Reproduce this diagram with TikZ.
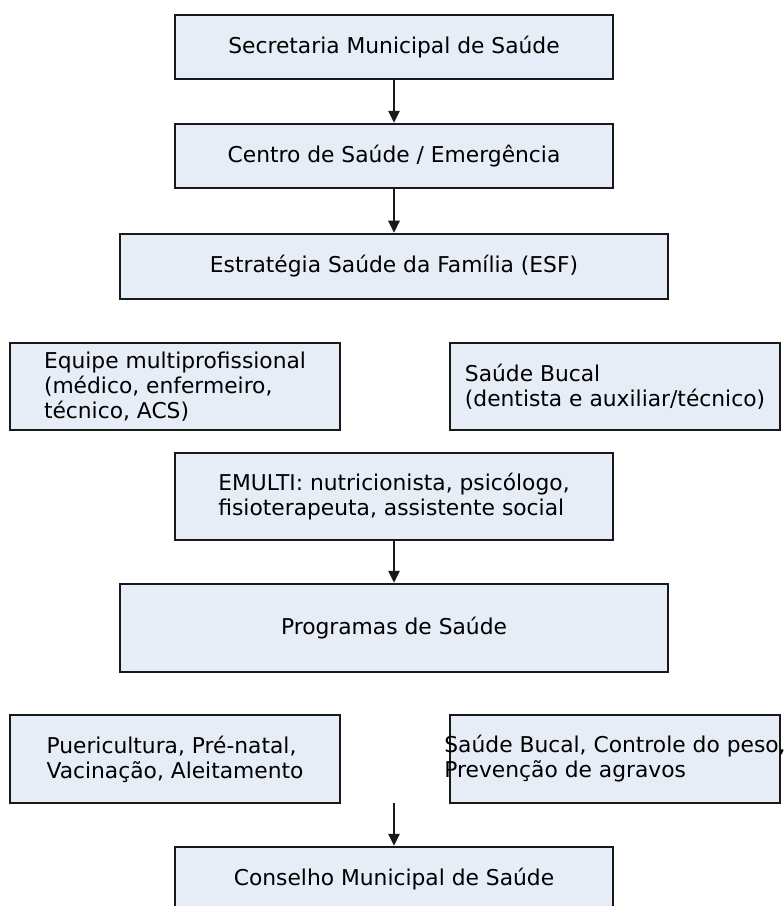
\documentclass[tikz,border=0pt]{standalone}
\usepackage{fontspec}
\setmainfont{DejaVu Sans}
\usetikzlibrary{arrows.meta}
\definecolor{boxfill}{RGB}{230,237,247}
\definecolor{boxline}{RGB}{25,25,25}

\begin{document}
\begin{tikzpicture}[
  box/.style={draw=boxline, fill=boxfill, line width=1.7pt, inner sep=0pt,
    align=left, font=\fontsize{15.5}{17.8}\selectfont},
  boxtext/.style={align=left, inner sep=0pt, font=\fontsize{15.5}{17.8}\selectfont},
  conn/.style={draw=boxline, line width=1.6pt, -{Triangle[length=0.3cm,width=0.28cm]}}
]
\useasboundingbox (0,0) rectangle (19.6,-22.65);
\clip (0,0) rectangle (19.6,-22.65);
\node[box, minimum width=10.95cm, minimum height=1.6cm] (sec) at (9.85,-1.175) {Secretaria Municipal de Saúde};
\node[box, minimum width=10.95cm, minimum height=1.6cm] (centro) at (9.85,-3.9) {Centro de Saúde / Emergência};
\node[box, minimum width=13.7cm, minimum height=1.625cm] (esf) at (9.85,-6.66) {Estratégia Saúde da Família (ESF)};
\node[box, minimum width=8.25cm, minimum height=2.175cm] (equipe) at (4.375,-9.66) {Equipe multiprofissional\\(médico, enfermeiro,\\técnico, ACS)};
\node[box, minimum width=8.25cm, minimum height=2.175cm] (bucal) at (15.375,-9.66) {Saúde Bucal\\(dentista e auxiliar/técnico)};
\node[box, minimum width=10.95cm, minimum height=2.175cm] (emulti) at (9.85,-12.41) {EMULTI: nutricionista, psicólogo,\\fisioterapeuta, assistente social};
\node[box, minimum width=13.7cm, minimum height=2.2cm] (prog) at (9.85,-15.7) {Programas de Saúde};
\node[box, minimum width=8.25cm, minimum height=2.2cm] (puer) at (4.375,-18.975) {Puericultura, Pré-natal,\\Vacinação, Aleitamento};
\node[box, minimum width=8.25cm, minimum height=2.2cm] (prev) at (15.375,-18.975) {};
\node[boxtext] (prevtxt) at (prev.center) {Saúde Bucal, Controle do peso,\\Prevenção de agravos};
\node[box, minimum width=10.95cm, minimum height=1.6cm] (cons) at (9.85,-21.975) {Conselho Municipal de Saúde};
\coordinate (gap) at (9.85,-20.075);

\draw[conn] (sec) -- (centro);
\draw[conn] (centro) -- (esf);
\draw[conn] (emulti) -- (prog);
\draw[conn] (gap) -- (cons);
\end{tikzpicture}
\end{document}
